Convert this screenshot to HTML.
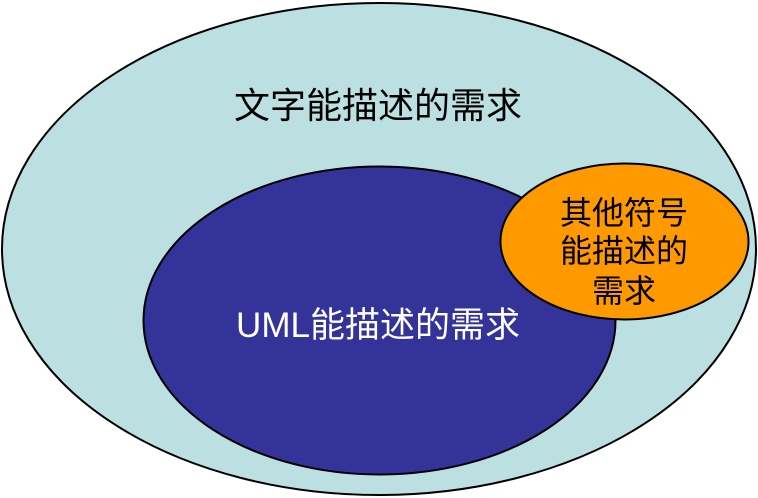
<!DOCTYPE html>
<html><head><meta charset="utf-8"><style>
html,body{margin:0;padding:0;background:#fff;}
svg{display:block;}
text{font-family:"Liberation Sans","Noto Sans CJK SC","WenQuanYi Zen Hei",sans-serif;}
</style></head><body>
<svg width="758" height="498" viewBox="0 0 758 498">
<ellipse cx="379" cy="249" rx="377" ry="246" fill="#bce0e1" stroke="#000" stroke-width="2"/>
<text x="378" y="118" font-size="36" text-anchor="middle" fill="#000">文字能描述的需求</text>
<ellipse cx="379.5" cy="320.5" rx="236" ry="154" fill="#333399" stroke="#000" stroke-width="2"/>
<ellipse cx="624.5" cy="241.5" rx="124" ry="78" fill="#ff9900" stroke="#000" stroke-width="2"/>
<text x="378" y="337" font-size="35" text-anchor="middle" fill="#fff">UML能描述的需求</text>
<text x="624" y="224" font-size="32" text-anchor="middle" fill="#000">其他符号</text>
<text x="624" y="262" font-size="32" text-anchor="middle" fill="#000">能描述的</text>
<text x="624" y="302" font-size="32" text-anchor="middle" fill="#000">需求</text>
</svg>
</body></html>
